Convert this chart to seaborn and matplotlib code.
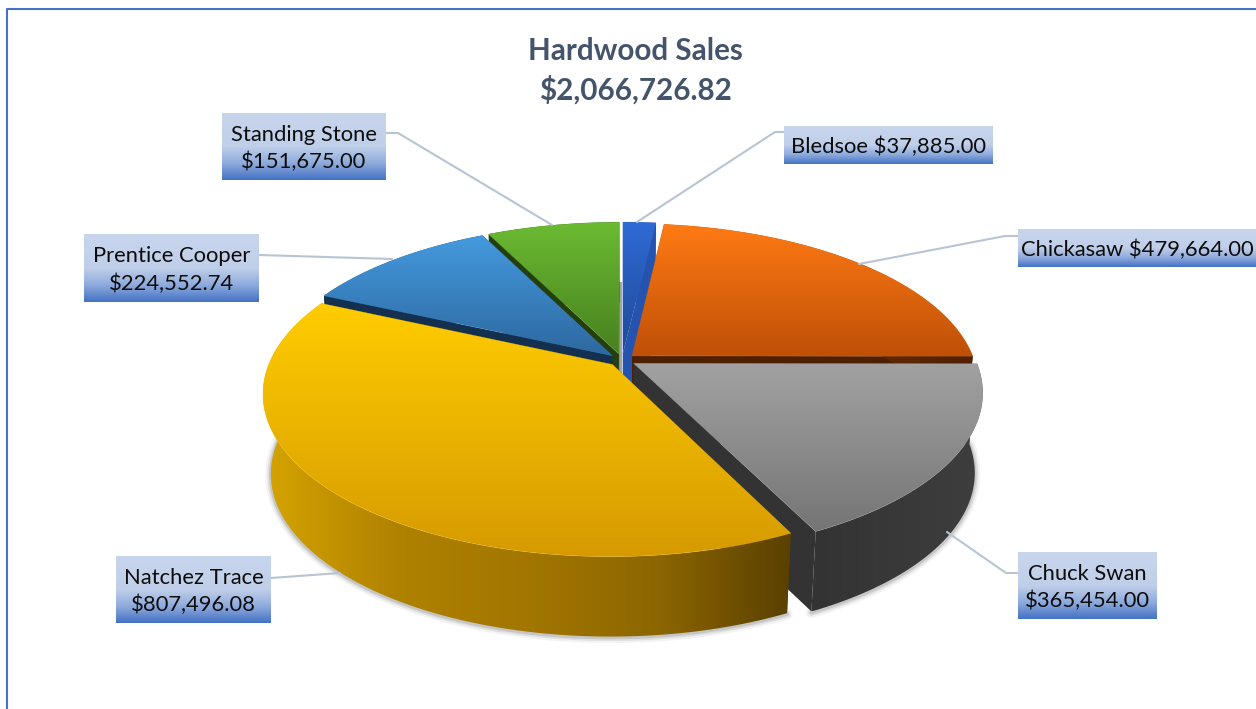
import numpy as np
import seaborn as sns
import matplotlib
matplotlib.use("Agg")
import matplotlib.pyplot as plt
from matplotlib.patches import Polygon, Rectangle

# ---- data ----
names = ["Bledsoe", "Chickasaw", "Chuck Swan", "Natchez Trace", "Prentice Cooper", "Standing Stone"]
sales = [37885.00, 479664.00, 365454.00, 807496.08, 224552.74, 151675.00]
chart_title = "Hardwood Sales"

# ---- style ----
top_light = ["#2F6AD6", "#FF7A14", "#A2A2A2", "#FFCD00", "#459ADF", "#6CBB33"]
top_dark = ["#1D4A94", "#BF5007", "#757575", "#D69A00", "#2D689F", "#47801F"]
cut_color = ["#2553AE", "#4F2000", "#333333", "#5A4000", "#14304F", "#233F0F"]
wall_stops = [["#2553AE", "#2553AE"], ["#8A3C05", "#4F2000"], ["#333333", "#3E3E3E"],
              ["#D6A400", "#B08200", "#A27600", "#8C6600", "#5A4000"],
              ["#14304F", "#14304F"], ["#233F0F", "#233F0F"]]
boxes = [(784, 126, 993, 164), (1018, 229, 1256, 267), (1018, 552, 1157, 619),
         (116, 556, 271, 623), (84, 234, 259, 302), (222, 113, 386, 180)]
leaders = [[(637, 222), (775, 132), (784, 132)], [(859, 264), (1005, 236), (1018, 236)],
           [(947, 532), (1006, 573), (1018, 573)], [(340, 573), (271, 578)],
           [(392, 259), (259, 255)], [(552, 225), (398, 133), (386, 133)]]
one_line = [True, True, False, False, False, False]

CX, CY, RX, RY, K, EXPL = 622, 360, 342, 156.7, 0.175, 0.04
DEPTH, BASE = 80, 0.978

sns.set_theme(style="white")
plt.rcParams["font.family"] = ["Lato", "DejaVu Sans"]
fig = plt.figure(figsize=(12.56, 7.09), dpi=100)
ax = fig.add_axes([0, 0, 1, 1])
ax.set_axis_off()


def project(u, v):
    s = 1 / (1 + K * v)
    return CX + RX * u * s, CY - RY * v * s


def lower(x, y):
    return CX + (x - CX) * BASE, y + DEPTH


def gradient_fill(pts, cmap, horizontal=False, zorder=2):
    pts = np.asarray(pts)
    x0, x1, y0, y1 = pts[:, 0].min(), pts[:, 0].max(), pts[:, 1].min(), pts[:, 1].max()
    g = np.linspace(0, 1, 256)
    g = g[None, :] if horizontal else g[:, None]
    im = ax.imshow(g, cmap=cmap, extent=[x0, x1, y1, y0], aspect="auto", zorder=zorder,
                   vmin=0, vmax=1, interpolation="bilinear")
    clip = Polygon(pts, closed=True, transform=ax.transData, fc="none", ec="none")
    ax.add_patch(clip)
    im.set_clip_path(clip)


total = sum(sales)
fractions = np.array(sales) / total
ends = np.cumsum(fractions) * 2 * np.pi
starts = np.r_[0, ends[:-1]]

geom = []
for a0, a1 in zip(starts, ends):
    mid = (a0 + a1) / 2
    ox, oy = EXPL * np.sin(mid), EXPL * np.cos(mid)
    t = np.linspace(a0, a1, 200)
    rx, ry = project(ox + np.sin(t), oy + np.cos(t))
    ax_, ay_ = project(ox, oy)
    geom.append((ax_, ay_, rx, ry))

# sliver of the pie seen through the central gap
ax.add_patch(Rectangle((CX - 4, 282), 4, 100, fc="#A4A4A4", ec="none", zorder=1))

z = 2
draw_order = [0, 5, 1, 4, 2, 3]   # back to front
for i in draw_order:
    ax_, ay_, rx, ry = geom[i]
    bx, by = lower(rx, ry)
    lax, lay = lower(ax_, ay_)
    rim_top = np.c_[rx, ry]
    rim_bot = np.c_[bx, by]
    wall = np.r_[rim_top, rim_bot[::-1]]
    if i in (2, 3):   # soft shadow round the front walls
        for lw, al in [(8, 0.06), (5, 0.10), (2.5, 0.16)]:
            ax.plot(rim_bot[:, 0], rim_bot[:, 1] + 1, color="#404040", lw=lw, alpha=al,
                    zorder=1.5, solid_capstyle="round")
    # cut faces
    for (px, py, qx, qy) in [(rx[0], ry[0], bx[0], by[0]), (rx[-1], ry[-1], bx[-1], by[-1])]:
        z += 0.01
        ax.add_patch(Polygon([(ax_, ay_), (px, py), (qx, qy), (lax, lay)], closed=True,
                             fc=cut_color[i], ec="none", zorder=z))
    z += 0.01
    gradient_fill(wall, sns.blend_palette(wall_stops[i], as_cmap=True), horizontal=True, zorder=z)
    z += 0.01
    top = np.r_[[(ax_, ay_)], rim_top]
    gradient_fill(top, sns.blend_palette([top_light[i], top_dark[i]], as_cmap=True), zorder=z)
    ax.add_patch(Polygon(top, closed=True, fc="none", ec=top_light[i], lw=0.4, alpha=0.5, zorder=z))

# labels
box_cmap = sns.blend_palette(["#C7D5ED", "#C4D2EB", "#C0CFE9", "#8FABDD", "#4472C4"], as_cmap=True)
for name, val, b, path, single in zip(names, sales, boxes, leaders, one_line):
    p = np.array(path)
    ax.plot(p[:, 0], p[:, 1], color="#B8C4D4", lw=1.5, zorder=8, solid_joinstyle="round")
    x0, y0, x1, y1 = b
    g = np.linspace(0, 1, 128)[:, None]
    ax.imshow(g, cmap=box_cmap, extent=[x0, x1, y1, y0], aspect="auto", zorder=9, vmin=0, vmax=1)
    sep = " " if single else "\n"
    ax.text((x0 + x1) / 2, (y0 + y1) / 2 + 2, f"{name}{sep}${val:,.2f}", ha="center", va="center",
            fontsize=15.8, color="#0D0D0D", zorder=10, linespacing=1.42)

# title
ax.text(635, 71, f"{chart_title}\n${total:,.2f}", ha="center", va="center", fontsize=21.3,
        fontweight="bold", color="#44546A", linespacing=1.41, zorder=10)

# chart border
ax.plot([7, 7, 1256], [709, 9, 9], color="#4472C4", lw=1.5, zorder=11)

ax.set_xlim(0, 1256)
ax.set_ylim(709, 0)
fig.savefig("out.png", dpi=100, facecolor="white")
